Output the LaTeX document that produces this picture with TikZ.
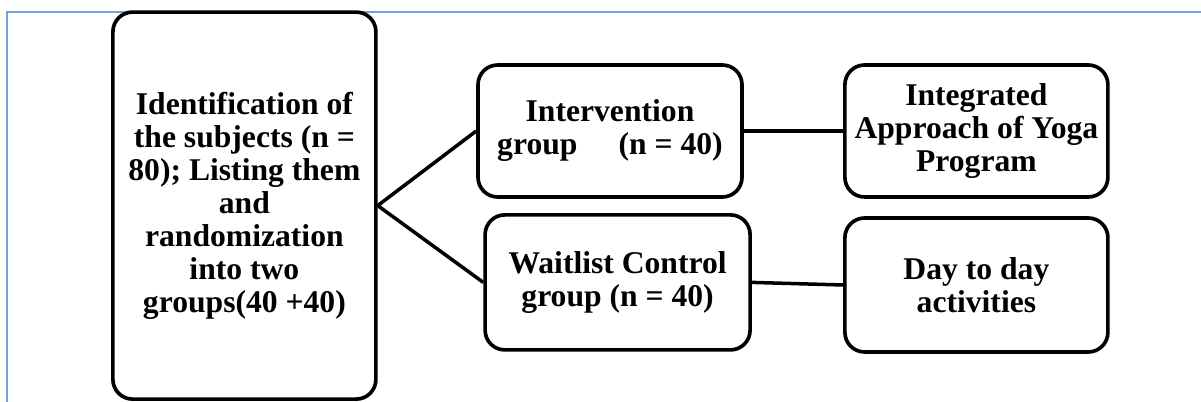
\documentclass[tikz,border=0pt]{standalone}
\usepackage{fontspec}
\setmainfont{Liberation Serif}
\definecolor{frameblue}{RGB}{110,165,220}
\usetikzlibrary{positioning}

\begin{document}
\begin{tikzpicture}[
  stagebox/.style={draw=black, line width=2.6pt, rounded corners=14pt,
    align=center, inner sep=4pt,
    font=\bfseries\fontsize{22.5}{23.5}\selectfont},
  link/.style={draw=black, line width=2.5pt}]

\useasboundingbox (0,0) rectangle (30.025,10.05);

% --- frame of the page ---
\draw[frameblue, line width=1.2pt] (0.175,0) -- (0.175,9.75) -- (30.025,9.75);

% --- Identification and randomization ---
\node[stagebox, minimum width=6.575cm, minimum height=9.675cm]
  (ident) at (6.11,4.91) {%
  Identification of\\
  the subjects (n =\\
  80); Listing them\\
  and\\
  randomization\\
  into two\\
  groups(40 +40)};

% --- Intervention group ---
\node[stagebox, minimum width=6.6cm, minimum height=3.3cm]
  (interv) at (15.25,6.775) {%
  Intervention\\
  group\hspace{1.3em}(n = 40)};

% --- Waitlist control group ---
\node[stagebox, minimum width=6.625cm, minimum height=3.375cm]
  (wait) at (15.44,2.99) {%
  Waitlist Control\\
  group (n = 40)};

% --- Yoga program ---
\node[stagebox, minimum width=6.575cm, minimum height=3.3cm]
  (yoga) at (24.41,6.775) {%
  Integrated\\
  Approach of Yoga\\
  Program};

% --- Day to day activities ---
\node[stagebox, minimum width=6.575cm, minimum height=3.35cm]
  (daily) at (24.41,2.925) {%
  Day to day\\
  activities};

% Links
\draw[link] (interv.west) -- (ident.east) -- (wait.west);
\draw[link] (interv.east) -- (yoga.west);
\draw[link] (wait.east) -- (daily.west);

\end{tikzpicture}
\end{document}
